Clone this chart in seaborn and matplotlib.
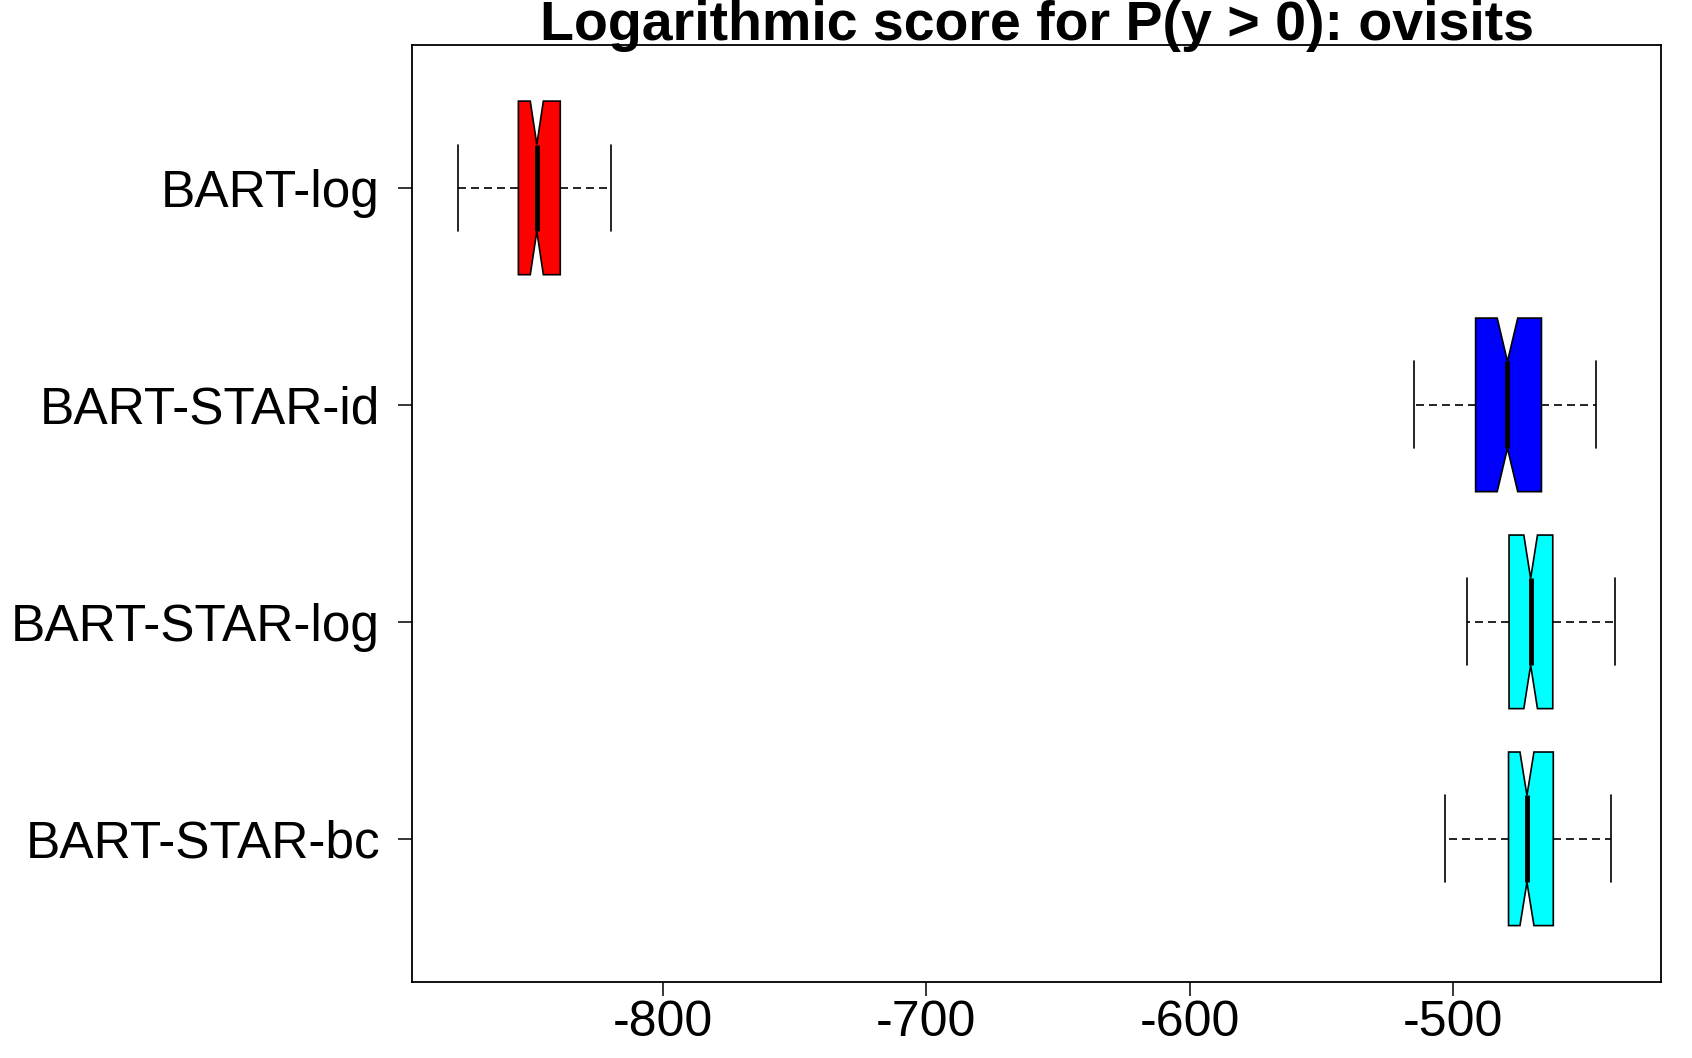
import numpy as np
import pandas as pd
import matplotlib
matplotlib.use("Agg")
import matplotlib.pyplot as plt
import seaborn as sns

# ---- data (five-number summaries) ----
models = ["BART-log", "BART-STAR-id", "BART-STAR-log", "BART-STAR-bc"]
whisker_low = [-877.7, -514.8, -494.5, -502.9]
q1_vals = [-854.9, -491.4, -478.7, -478.9]
median_vals = [-847.9, -479.3, -470.5, -471.9]
q3_vals = [-839.0, -466.4, -462.1, -461.9]
whisker_high = [-819.8, -445.8, -438.6, -440.1]
colors = ["#FF0000", "#0000FF", "#00FFFF", "#00FFFF"]
x_ticks = [-800, -700, -600, -500]
title = "Logarithmic score for P(y > 0): ovisits"

# Rebuild samples (n = 101) that reproduce each summary exactly
k = 25
rows = []
for m, lo, a, md, b, hi in zip(models, whisker_low, q1_vals, median_vals, q3_vals, whisker_high):
    vals = [lo] + [a] * (2 * k - 1) + [md] + [b] * (2 * k - 1) + [hi]
    rows += [(m, v) for v in vals]
df = pd.DataFrame(rows, columns=["model", "score"])

sns.set_style("white")
plt.rcParams["font.family"] = ["Liberation Sans", "DejaVu Sans"]
plt.rcParams["text.color"] = "black"
plt.rcParams["axes.labelcolor"] = "black"

fig = plt.figure(figsize=(16.92, 10.58), dpi=100)
ax = fig.add_axes([412 / 1692, 1 - 982 / 1058, (1661 - 412) / 1692, (982 - 44.7) / 1058])

sns.boxplot(
    data=df, x="score", y="model", hue="model", order=models, hue_order=models,
    palette=dict(zip(models, colors)), saturation=1, width=0.8, whis=1.5,
    linecolor="black", linewidth=1.2, notch=True, showfliers=False, legend=False,
    medianprops=dict(linewidth=3.5, color="black"),
    whiskerprops=dict(linestyle=(0, (4.8, 3.0)), color="black", linewidth=1.2),
    capprops=dict(color="black", linewidth=1.2),
    ax=ax,
)

ax.set_xlim(-895.3, -421.0)
ax.set_ylim(3.66, -0.66)
ax.set_xticks(x_ticks)
ax.set_xticklabels([str(t) for t in x_ticks])
ax.set_xlabel("")
ax.set_ylabel("")
for s in ax.spines.values():
    s.set_visible(True)
    s.set_color("black")
    s.set_linewidth(1.3)
ax.tick_params(axis="both", which="major", direction="out", length=10, width=1.1,
               color="black", labelcolor="black")
ax.tick_params(axis="y", pad=13, left=True, labelsize=37)
ax.tick_params(axis="x", pad=3, bottom=True, labelsize=36)

fig.text((412 + 1661) / 2 / 1692, 1 - 40 / 1058, title, ha="center", va="baseline",
         fontsize=40, fontweight="bold", color="black")

fig.savefig("out.png", dpi=100, facecolor="white")
